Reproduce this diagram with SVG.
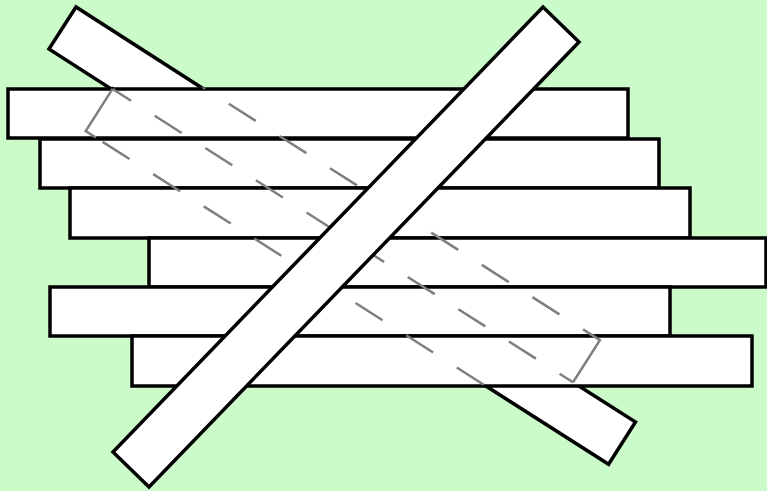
<svg xmlns="http://www.w3.org/2000/svg" width="767" height="491" viewBox="0 0 767 491">
  <style>
    .bg { fill: #cafbc8; }
    .solid { fill: #ffffff; stroke: #000000; stroke-width: 3.5; stroke-linejoin: miter; }
    .hidden { fill: none; stroke: #7f7f7f; stroke-width: 2.5; stroke-dasharray: 32 28; }
    .hiddenEnd { fill: none; stroke: #7f7f7f; stroke-width: 2.5; }
  </style>
  <defs>
    <clipPath id="plankArea" clipPathUnits="userSpaceOnUse">
      <rect x="6.5" y="87.5" width="623" height="52"/>
      <rect x="38.5" y="137.5" width="622" height="52"/>
      <rect x="68.5" y="186.5" width="623" height="53"/>
      <rect x="147.5" y="236.5" width="621" height="52"/>
      <rect x="48.5" y="285.5" width="623" height="52"/>
      <rect x="130.5" y="334.5" width="623" height="53"/>
    </clipPath>
  </defs>
  <rect class="bg" x="0" y="0" width="767" height="491"/>

  <!-- back stick: two offset pieces (behind the planks) -->
  <g id="stick-back-upper" transform="translate(76,7) rotate(32.7)">
    <rect class="solid" x="0" y="0" width="620" height="50"/>
  </g>
  <g id="stick-back-lower" transform="translate(77,7) rotate(32.5)">
    <rect class="solid" x="74" y="50" width="620" height="50"/>
  </g>

  <!-- horizontal planks -->
  <g id="plank-1"><rect class="solid" x="8" y="89" width="620" height="49"/></g>
  <g id="plank-2"><rect class="solid" x="40" y="139" width="619" height="49"/></g>
  <g id="plank-3"><rect class="solid" x="70" y="188" width="620" height="50"/></g>
  <g id="plank-4"><rect class="solid" x="149" y="238" width="617" height="49"/></g>
  <g id="plank-5"><rect class="solid" x="50" y="287" width="620" height="49"/></g>
  <g id="plank-6"><rect class="solid" x="132" y="336" width="620" height="50"/></g>

  <!-- hidden outline of the back stick, seen through the planks -->
  <g id="hidden-outline" clip-path="url(#plankArea)">
    <g transform="translate(77,7) rotate(32.5)">
      <path class="hidden" d="M 0,0 H 606"/>
      <path class="hiddenEnd" d="M 606,0 H 620 V 50"/>
      <path class="hidden" d="M 74,50 H 620" stroke-dashoffset="10"/>
      <path class="hiddenEnd" d="M 74,50 V 100 H 86"/>
      <path class="hidden" d="M 94,100 H 694"/>
    </g>
  </g>

  <!-- front stick -->
  <g id="stick-front">
    <polygon class="solid" points="543,7 579,42 149,487 113,452"/>
  </g>
</svg>
